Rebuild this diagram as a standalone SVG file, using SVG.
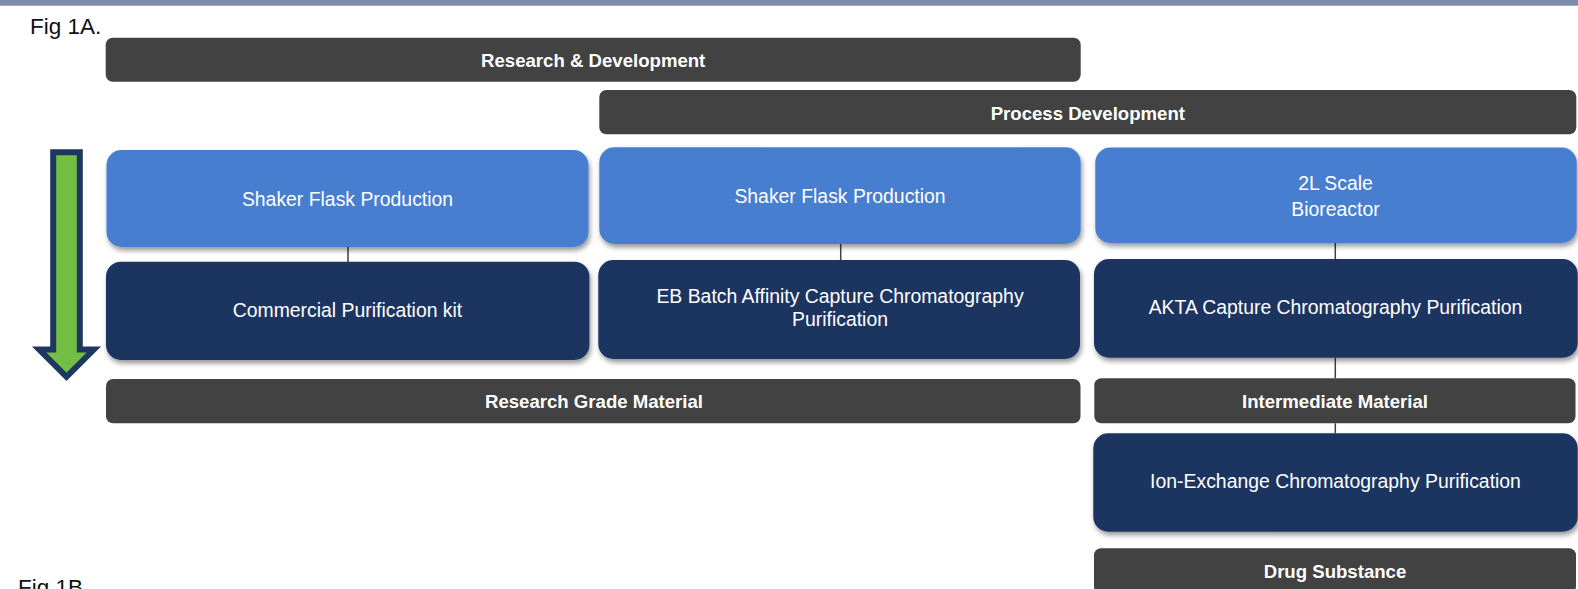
<svg xmlns="http://www.w3.org/2000/svg" width="1578" height="589" viewBox="0 0 1578 589">
  <defs>
    <filter id="drop" x="-5%" y="-10%" width="112%" height="135%">
      <feDropShadow dx="1.5" dy="3.5" stdDeviation="2.5" flood-color="#000" flood-opacity="0.4"/>
    </filter>
    <style>
      .bar { fill: #424242; }
      .step { fill: #477ed0; filter: url(#drop); }
      .purify { fill: #1c3661; filter: url(#drop); }
      .lbl { font-family: "Liberation Sans", Arial, sans-serif; font-size: 19.4px; fill: #ffffff; text-anchor: middle; }
      .head { font-family: "Liberation Sans", Arial, sans-serif; font-size: 18.6px; font-weight: bold; fill: #ffffff; text-anchor: middle; }
      .fig { font-family: "Liberation Sans", Arial, sans-serif; font-size: 22.5px; fill: #111111; }
      .link { stroke: #3f3f3f; stroke-width: 1.5; fill: none; }
    </style>
  </defs>

  <rect width="1578" height="589" fill="#ffffff"/>
  <!-- header rule -->
  <rect x="0" y="0" width="1578" height="5.7" fill="#7b8bab"/>

  <text class="fig" x="30" y="34.3">Fig 1A.</text>
  <text class="fig" x="18" y="595.4">Fig 1B.</text>

  <!-- progression arrow -->
  <g id="flow-arrow">
    <polygon points="53.2,152.3 79.8,152.3 79.8,349.5 93.8,349.5 66.5,376.8 39.2,349.5 53.2,349.5" fill="#72bf44" stroke="#1d3760" stroke-width="6" stroke-linejoin="miter" stroke-miterlimit="10"/>
  </g>

  <!-- connectors -->
  <g id="connectors">
    <line class="link" x1="348" y1="247" x2="348" y2="262"/>
    <line class="link" x1="840.7" y1="244" x2="840.7" y2="260"/>
    <line class="link" x1="1335.3" y1="243" x2="1335.3" y2="259"/>
    <line class="link" x1="1335.3" y1="357.7" x2="1335.3" y2="378.3"/>
    <line class="link" x1="1335.3" y1="423.3" x2="1335.3" y2="433.3"/>
  </g>

  <!-- phase headers -->
  <g id="research-development">
    <rect class="bar" x="105.7" y="37.7" width="975" height="44" rx="7"/>
    <text class="head" x="593.2" y="66.7">Research &amp; Development</text>
  </g>
  <g id="process-development">
    <rect class="bar" x="599.3" y="90" width="977" height="44.3" rx="7"/>
    <text class="head" x="1087.8" y="120">Process Development</text>
  </g>

  <!-- production steps -->
  <g id="shaker-flask-rd">
    <rect class="step" x="106.5" y="150" width="482" height="97" rx="15"/>
    <text class="lbl" x="347.5" y="206">Shaker Flask Production</text>
  </g>
  <g id="shaker-flask-pd">
    <rect class="step" x="599.3" y="147.3" width="481.4" height="96.7" rx="15"/>
    <text class="lbl" x="840" y="202.7">Shaker Flask Production</text>
  </g>
  <g id="bioreactor-2l">
    <rect class="step" x="1095.3" y="147.5" width="481.4" height="95.5" rx="15"/>
    <text class="lbl" x="1335.5" y="190">2L Scale</text>
    <text class="lbl" x="1335.5" y="216">Bioreactor</text>
  </g>

  <!-- purification steps -->
  <g id="commercial-kit">
    <rect class="purify" x="106" y="261.7" width="483.4" height="98.3" rx="15"/>
    <text class="lbl" x="347.5" y="317.3">Commercial Purification kit</text>
  </g>
  <g id="eb-batch-affinity">
    <rect class="purify" x="598.3" y="260" width="481.7" height="99" rx="15"/>
    <text class="lbl" x="840" y="303.3">EB Batch Affinity Capture Chromatography</text>
    <text class="lbl" x="840" y="326">Purification</text>
  </g>
  <g id="akta-capture">
    <rect class="purify" x="1094" y="259" width="483.7" height="98.7" rx="15"/>
    <text class="lbl" x="1335.5" y="314">AKTA Capture Chromatography Purification</text>
  </g>

  <!-- material outputs -->
  <g id="research-grade">
    <rect class="bar" x="106" y="379" width="974.5" height="44.3" rx="7"/>
    <text class="head" x="594" y="408.3">Research Grade Material</text>
  </g>
  <g id="intermediate">
    <rect class="bar" x="1094.3" y="378.3" width="481.2" height="45" rx="7"/>
    <text class="head" x="1335" y="408.3">Intermediate Material</text>
  </g>

  <g id="ion-exchange">
    <rect class="purify" x="1093.3" y="433.3" width="484.4" height="98.4" rx="15"/>
    <text class="lbl" x="1335.5" y="488.3">Ion-Exchange Chromatography Purification</text>
  </g>

  <g id="drug-substance">
    <rect class="bar" x="1094" y="548.3" width="482" height="45" rx="7"/>
    <text class="head" x="1335" y="578.3">Drug Substance</text>
  </g>
</svg>
